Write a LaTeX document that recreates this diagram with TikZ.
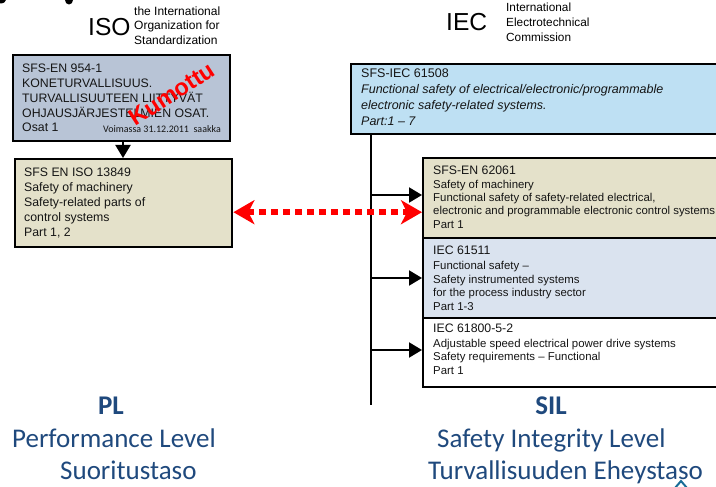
\documentclass[tikz,border=0pt]{standalone}
\usepackage{fontspec}
\setmainfont{Liberation Sans}
\newfontfamily\calib{Carlito}
\usetikzlibrary{arrows.meta}
\definecolor{boxA}{HTML}{B8C4D6}
\definecolor{boxB}{HTML}{E4E1CA}
\definecolor{boxC}{HTML}{BEE0F3}
\definecolor{boxD}{HTML}{DAE3EF}
\definecolor{lbl}{HTML}{1F497D}
\definecolor{txt}{HTML}{151515}
\begin{document}
\begin{tikzpicture}[x=1pt,y=-1pt,
  stdbox/.style={draw=black,line width=2.4pt,rectangle,inner sep=0pt,anchor=north west},
  boxtxt/.style={anchor=north west,inner sep=0pt,align=left,text=txt},
  conn/.style={line width=2pt,draw=black},
  blkarr/.style={conn,-{Triangle[length=13pt,width=15pt]}},
  redarr/.style={draw=red,line width=6pt,dash pattern=on 7pt off 5pt,
     {Stealth[length=21pt,width=24pt,inset=6pt,red]}-{Stealth[length=21pt,width=24pt,inset=6pt,red]}},
  biglbl/.style={inner sep=0pt,text=lbl,font=\calib\fontsize{27}{32}\selectfont}
]
\useasboundingbox (0,0) rectangle (716,487);
\clip (0,0) rectangle (716,487);

% fragments at the top edge
\fill[black] (0,0) ellipse [x radius=6pt, y radius=3.5pt];
\fill[black] (69,0) ellipse [x radius=4pt, y radius=4.5pt];

% headers
\node[anchor=base west,inner sep=0pt,font=\fontsize{24.6}{28}\selectfont] (iso) at (88,36) {ISO};
\node[boxtxt,text=black,font=\fontsize{12}{14.7}\selectfont] (isotxt) at (134,6.3)
  {the International\\Organization for\\Standardization};
\node[anchor=base west,inner sep=0pt,font=\fontsize{24.6}{28}\selectfont] (iec) at (446,31) {IEC};
\node[boxtxt,text=black,font=\fontsize{11.8}{15}\selectfont] (iectxt) at (506,3.1)
  {International\\Electrotechnical\\Commission};

% left boxes
\node[stdbox,fill=boxA,minimum width=217pt,minimum height=86pt] (b1) at (12,54) {};
\node[boxtxt,font=\fontsize{12.3}{14.75}\selectfont] (b1t) at (22,64.2)
  {SFS-EN 954-1\\KONETURVALLISUUS.\\TURVALLISUUTEEN LIITTYVÄT\\OHJAUSJÄRJESTELMIEN OSAT.\\Osat 1};
\node[anchor=base east,inner sep=0pt,text=txt,font=\calib\fontsize{10}{12}\selectfont] (b1v) at (221,132.7)
  {Voimassa 31.12.2011\ \ saakka};
\node[text=red,inner sep=0pt,rotate=33,font=\bfseries\fontsize{23.5}{26}\selectfont] (kum) at (172,94) {Kumottu};

\node[stdbox,fill=boxB,minimum width=217pt,minimum height=88pt] (b2) at (14,158) {};
\node[boxtxt,font=\fontsize{12.3}{15}\selectfont] (b2t) at (24,168.2)
  {SFS EN ISO 13849\\Safety of machinery\\Safety-related parts of\\control systems\\Part 1, 2};

\draw[blkarr] (b1.south -| 123,0) -- (b2.north -| 123,0);

% right boxes
\node[stdbox,fill=boxC,minimum width=400pt,minimum height=70pt] (top) at (350,63) {};
\node[boxtxt,font=\fontsize{12.5}{15.7}\selectfont] (topt) at (361,69)
  {SFS-IEC 61508\\\itshape Functional safety of electrical/electronic/programmable\\\itshape electronic safety-related systems.\\\itshape Part:1 -- 7};

\node[stdbox,fill=boxB,minimum width=330pt,minimum height=80pt] (e1) at (422,157) {};
\node[stdbox,fill=boxD,minimum width=330pt,minimum height=80pt] (e2) at (422,237) {};
\node[stdbox,fill=white,minimum width=330pt,minimum height=69pt] (e3) at (422,317) {};

\node[boxtxt,font=\fontsize{12.3}{14}\selectfont] (e1a) at (433,166.2) {SFS-EN 62061};
\node[boxtxt,font=\fontsize{11.4}{13.3}\selectfont] (e1b) at (433,179.8)
  {Safety of machinery\\Functional safety of safety-related electrical,\\electronic and programmable electronic control systems\\Part 1};

\node[boxtxt,font=\fontsize{12.3}{14}\selectfont] (e2a) at (433,246.2) {IEC 61511};
\node[boxtxt,font=\fontsize{11.4}{13.9}\selectfont] (e2b) at (433,260.7)
  {Functional safety --\\Safety instrumented systems\\for the process industry sector\\Part 1-3};

\node[boxtxt,font=\fontsize{12.3}{14}\selectfont] (e3a) at (433,324.2) {IEC 61800-5-2};
\node[boxtxt,font=\fontsize{11.4}{13.7}\selectfont] (e3b) at (433,338.7)
  {Adjustable speed electrical power drive systems\\Safety requirements -- Functional\\Part 1};

% trunk and branches
\coordinate (vbot) at (371,405);
\draw[conn] (vbot |- top.south) -- (vbot);
\coordinate (j1) at (371,195);
\coordinate (j2) at (371,278);
\coordinate (j3) at (371,350);
\draw[blkarr] (j1) -- (j1 -| e1.west);
\draw[blkarr] (j2) -- (j2 -| e2.west);
\draw[blkarr] (j3) -- (j3 -| e3.west);

% red dotted double arrow
\draw[redarr] ([yshift=-9pt]b2.east) -- ([yshift=-9pt]b2.east -| e1.west);

% bottom labels
\node[biglbl,anchor=base,font=\calib\bfseries\fontsize{27}{32}\selectfont] (pl) at (111,414) {PL};
\node[biglbl,anchor=base west] (pl1) at (12,447) {Performance Level};
\node[biglbl,anchor=base west] (pl2) at (60,479) {Suoritustaso};
\node[biglbl,anchor=base,font=\calib\bfseries\fontsize{27}{32}\selectfont] (sil) at (551,414) {SIL};
\node[biglbl,anchor=base west] (sil1) at (437,447) {Safety Integrity Level};
\node[biglbl,anchor=base west] (sil2) at (428,479) {Turvallisuuden Eheystaso};

% small chevron at the bottom edge
\draw[draw=lbl!80!cyan,line width=2pt] (675,488) -- (681,481) -- (687,488);
\end{tikzpicture}
\end{document}
